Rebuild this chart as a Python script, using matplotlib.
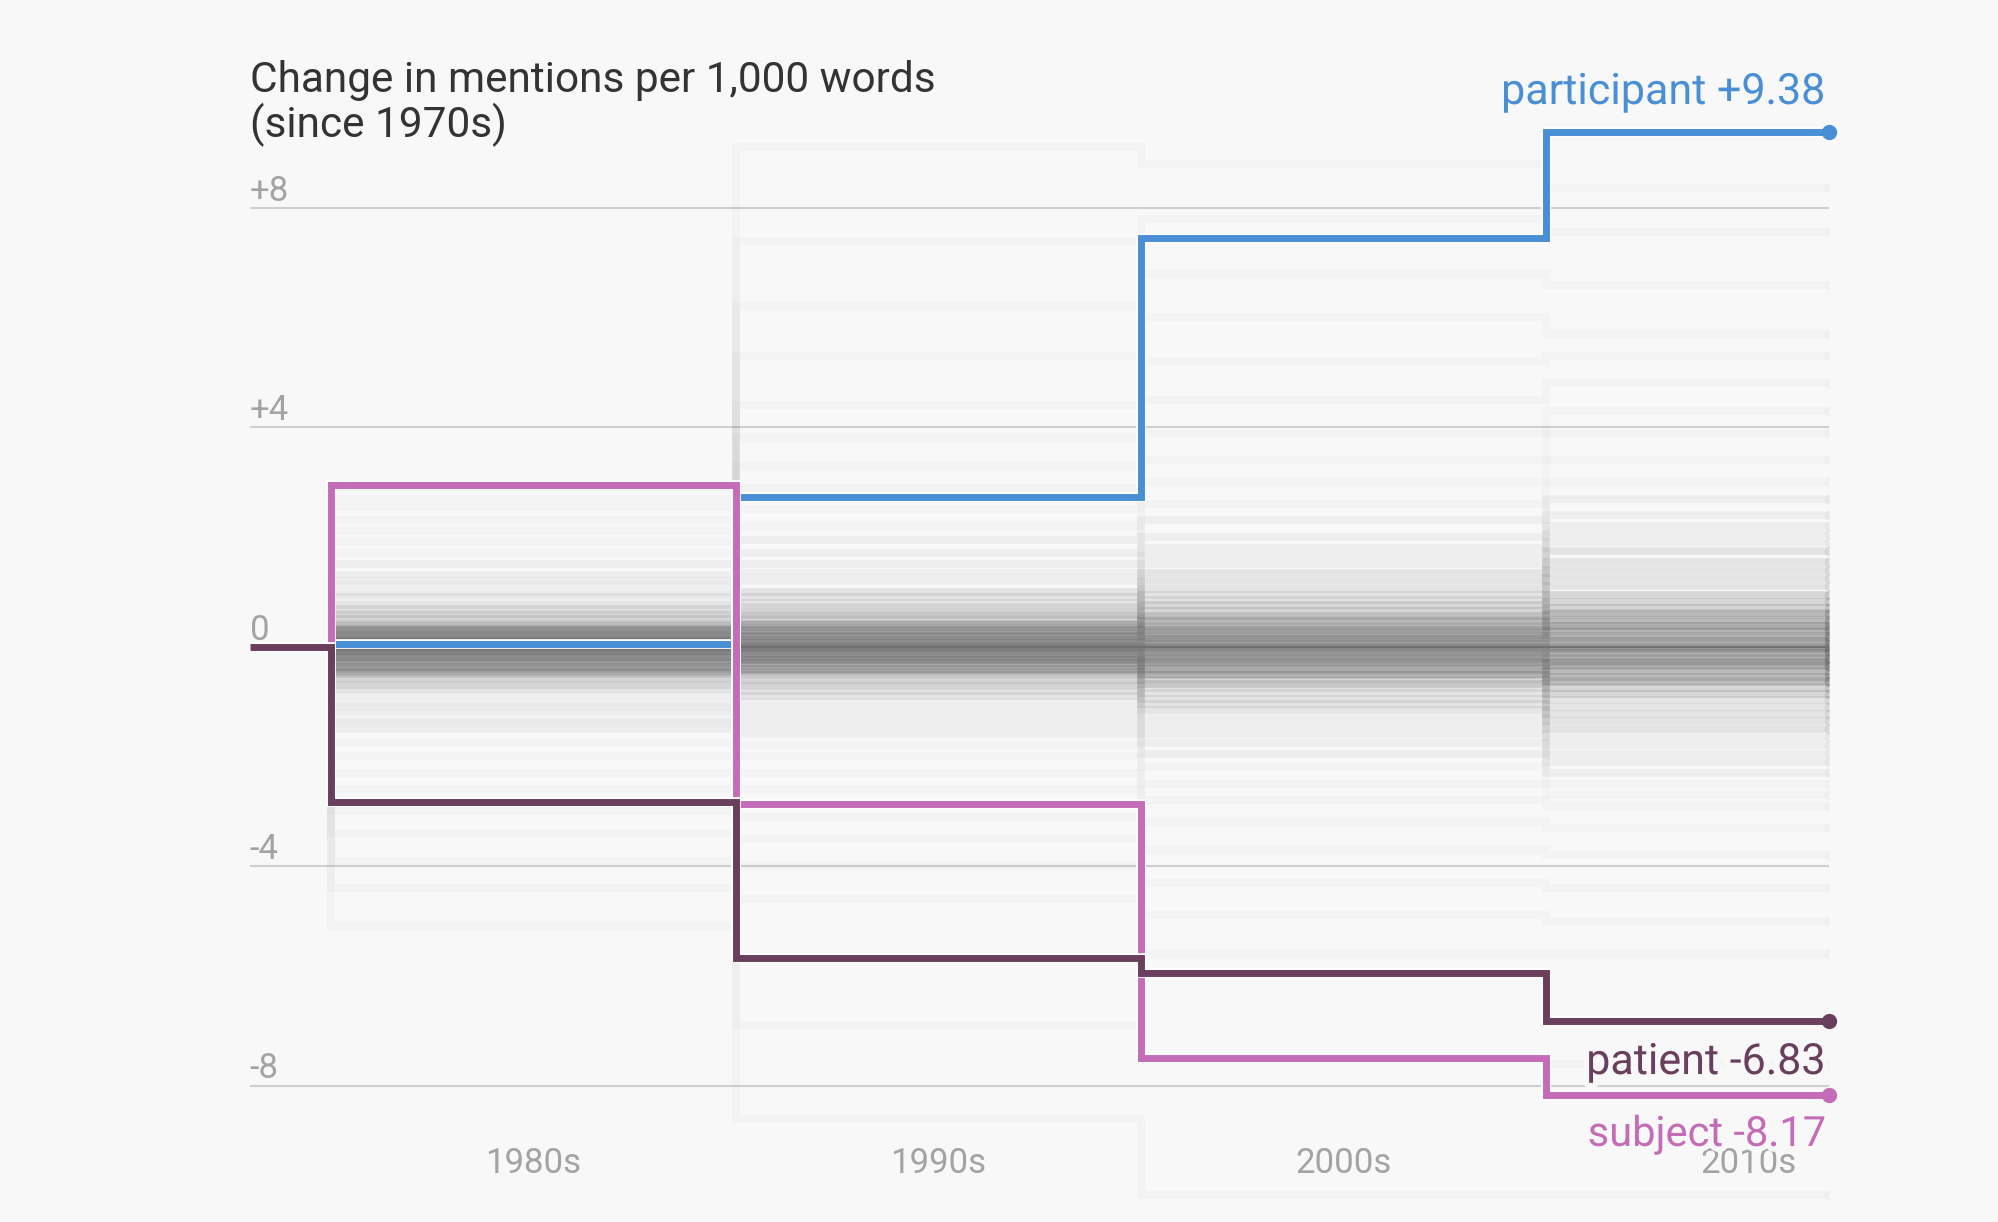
import matplotlib.pyplot as plt
import matplotlib.patheffects as pe

plt.rcParams['font.family'] = ['Roboto', 'DejaVu Sans']

# decade boundaries (1970s stub, then 1980s..2010s)
decade_edges = [1973, 1975, 1985, 1995, 2005, 2012]
decade_centers = [1980, 1990, 2000, 2010]
decade_labels = ['1980s', '1990s', '2000s', '2010s']

y_ticks = [8, 4, 0, -4, -8]
y_tick_labels = ['+8', '+4', '0', '-4', '-8']

# highlighted words: change since 1970s, per decade
participant = [0, 0.05, 2.72, 7.44, 9.38]
subject = [0, 2.95, -2.86, -7.49, -8.17]
patient = [0, -2.84, -5.67, -5.95, -6.83]

# all the other words (faint background), one value per decade
bg_1980s = [
    0.02, -0.03, 0.05, -0.06, 0.10, -0.10, 0.12, -0.15, 0.18, -0.20,
    0.22, -0.25, 0.28, -0.30, 0.33, -0.35, 0.38, -0.40, 0.42, -0.45,
    0.50, -0.50, 0.55, -0.58, 0.60, -0.62, 0.68, -0.70, 0.75, -0.78,
    0.00, -0.08, 0.08, -0.18, 0.15, -0.28, 0.25, -0.38, 0.30, -0.48,
    0.90, -0.90, 1.00, -1.05, 1.15, -1.20, 1.30, -1.35, 1.50, -1.50,
    1.70, -1.75, 1.90, -2.00, 2.10, -2.30, 2.30, -2.60, 2.55, -3.00,
    2.70, -3.40, 2.90, -3.90, 1.20, -4.40, 0.95, -5.10, -1.10, -1.40,
]
bg_1990s = [
    0.00, -0.02, 0.06, -0.08, 0.12, -0.12, 0.20, -0.18, 0.25, -0.24,
    0.30, -0.30, 0.36, -0.35, 0.42, -0.40, 0.50, -0.46, 0.58, -0.52,
    0.65, -0.60, 0.72, -0.66, 0.80, -0.72, 0.90, -0.80, 1.00, -0.90,
    0.03, -0.05, 0.10, -0.15, 0.18, -0.22, 0.28, -0.30, 0.40, -0.42,
    1.20, -1.00, 1.35, -1.15, 1.50, -1.30, 1.70, -1.45, 1.95, -1.60,
    2.20, -1.80, 2.50, -2.00, 2.90, -2.30, 3.30, -2.60, 3.80, -3.10,
    4.40, -3.50, 5.30, -4.00, 6.20, -4.60, 7.40, -6.90, 9.10, -8.60,
]
bg_2000s = [
    0.00, -0.03, 0.08, -0.10, 0.15, -0.15, 0.22, -0.22, 0.30, -0.30,
    0.38, -0.36, 0.46, -0.44, 0.55, -0.52, 0.65, -0.60, 0.75, -0.68,
    0.85, -0.76, 0.95, -0.85, 1.05, -0.95, 1.20, -1.05, 1.35, -1.15,
    0.04, -0.06, 0.12, -0.18, 0.25, -0.28, 0.35, -0.40, 0.50, -0.50,
    1.50, -1.30, 1.65, -1.45, 1.80, -1.60, 2.00, -1.75, 2.30, -1.95,
    2.60, -2.20, 3.00, -2.50, 3.40, -2.80, 3.90, -3.20, 4.50, -3.70,
    5.20, -4.30, 6.00, -4.90, 6.80, -5.60, 7.80, -7.50, 8.80, -10.00,
]
bg_2010s = [
    0.00, -0.04, 0.10, -0.12, 0.20, -0.20, 0.28, -0.28, 0.38, -0.36,
    0.48, -0.45, 0.58, -0.55, 0.70, -0.65, 0.82, -0.75, 0.95, -0.86,
    1.10, -0.98, 1.25, -1.10, 1.40, -1.22, 1.55, -1.35, 1.75, -1.50,
    0.05, -0.08, 0.15, -0.22, 0.32, -0.35, 0.45, -0.50, 0.62, -0.62,
    1.90, -1.65, 2.05, -1.80, 2.20, -1.95, 2.40, -2.10, 2.70, -2.30,
    3.00, -2.50, 3.40, -2.70, 3.90, -2.90, 4.30, -3.30, 4.80, -3.80,
    5.30, -4.40, 5.70, -5.00, 6.60, -5.60, 7.56, -7.60, 8.35, -10.00,
]
# how many words follow (roughly) each background trajectory
bg_counts = [
    10, 10, 10, 10, 10, 10, 10, 10, 10, 10,
    7, 7, 7, 7, 7, 7, 7, 7, 7, 7,
    4, 4, 4, 4, 4, 4, 4, 4, 4, 4,
    8, 8, 8, 8, 8, 8, 8, 8, 8, 8,
    2, 2, 2, 2, 2, 2, 2, 2, 2, 2,
    1, 1, 1, 1, 1, 1, 1, 1, 1, 1,
    1, 1, 1, 1, 1, 1, 1, 1, 1, 1,
]

BG = '#f8f8f8'
BLUE = '#4a8fd5'
PINK = '#c56cb8'
PLUM = '#6a3f5e'
GRAY_TXT = '#a3a3a3'

fig = plt.figure(figsize=(19.98, 12.22), dpi=100, facecolor=BG)
ax = fig.add_axes([0.12497, 0.01285, 0.79069, 0.8980])
ax.set_facecolor(BG)
ax.set_xlim(1973, 2012)
ax.set_ylim(-10.2, 9.8)
ax.axis('off')

# gridlines
ax.hlines([v for v in y_ticks if v != 0], 1973, 2012, color='#cfcfcf', lw=1.5, zorder=1)

# background words
for i in range(len(bg_1980s)):
    vals = [0, bg_1980s[i], bg_1990s[i], bg_2000s[i], bg_2010s[i]]
    a = 1 - (1 - 0.032) ** bg_counts[i]
    ax.stairs(vals, decade_edges, baseline=None, color='#5a5a5a', alpha=a, lw=5.5, zorder=2)
    ax.plot(2012, bg_2010s[i], 'o', color='#5a5a5a', alpha=a * 0.6, ms=6, zorder=2)

ax.hlines(0, 1973, 2012, color='#707070', lw=1.5, zorder=3)

# highlighted words
halo = [pe.Stroke(linewidth=7, foreground='white'), pe.Normal()]
for vals, col, z in [(participant, BLUE, 5), (subject, PINK, 6), (patient, PLUM, 7)]:
    ax.stairs(vals, decade_edges, baseline=None, color=col, lw=5, zorder=z,
              path_effects=halo)
    ax.plot(2012, vals[-1], 'o', color=col, ms=10, zorder=z, clip_on=False)

# tick labels
for v, lab in zip(y_ticks, y_tick_labels):
    ax.text(1973, v + 0.13, lab, ha='left', va='baseline', fontsize=25, color=GRAY_TXT)
for c, lab in zip(decade_centers, decade_labels):
    ax.text(c, -9.6, lab, ha='center', va='baseline', fontsize=25, color=GRAY_TXT, zorder=8)

# end labels (the subject label sits over the 2010s tick, as in the original)
lab_halo = [pe.withStroke(linewidth=8, foreground=BG)]
ax.text(2011.9, participant[-1] + 0.51, f'participant +{participant[-1]:.2f}', ha='right',
        va='baseline', fontsize=31, color=BLUE, path_effects=lab_halo, zorder=9)
ax.text(2011.9, patient[-1] - 0.96, f'patient {patient[-1]:.2f}', ha='right',
        va='baseline', fontsize=31, color=PLUM, path_effects=lab_halo, zorder=9)
ax.text(2011.9, subject[-1] - 0.93, f'subject {subject[-1]:.2f}', ha='right',
        va='baseline', fontsize=30, color=PINK, path_effects=lab_halo, zorder=9)

# title
fig.text(0.125, 1 - 92 / 1222, 'Change in mentions per 1,000 words', ha='left',
         va='baseline', fontsize=30.5, color='#333333')
fig.text(0.125, 1 - 137 / 1222, '(since 1970s)', ha='left', va='baseline',
         fontsize=30.5, color='#333333')

fig.savefig('out.png', dpi=100, facecolor=BG)
